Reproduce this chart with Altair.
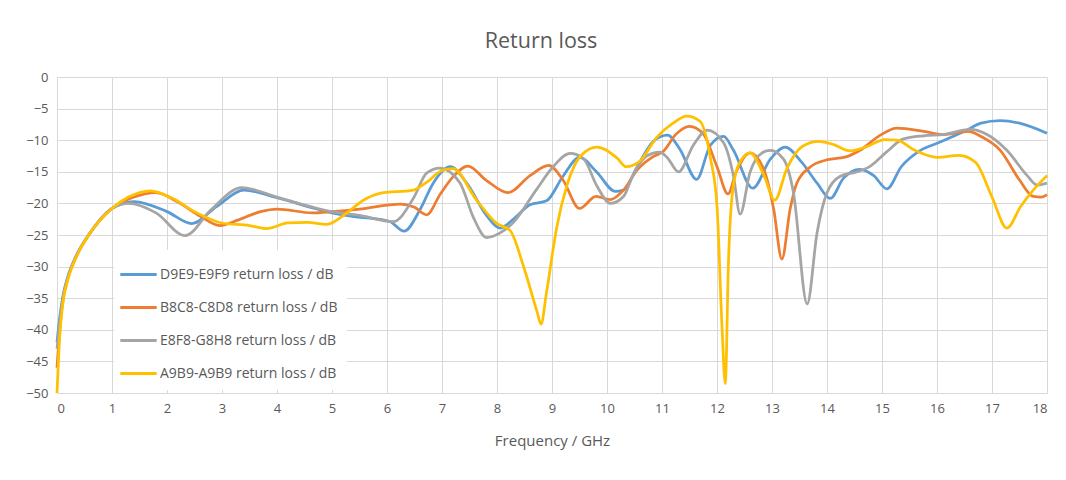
import altair as alt
import pandas as pd

# ---- data ----
series_names = [
    "D9E9-E9F9 return loss / dB",
    "B8C8-C8D8 return loss / dB",
    "E8F8-G8H8 return loss / dB",
    "A9B9-A9B9 return loss / dB",
]
series_colors = ["#5B9BD5", "#ED7D31", "#A5A5A5", "#FFC000"]

freq_blue = [0, 0.05, 0.1, 0.2, 0.35, 0.6, 1.0, 1.4, 2.0, 2.45, 2.9, 3.4, 4.0, 4.65, 5.0, 5.4,
             5.77, 6.06, 6.31, 6.6, 6.84, 7.15, 7.45, 7.81, 8.05, 8.3, 8.6, 8.9, 9.2, 9.5,
             9.82, 10.15, 10.3, 10.55, 10.84, 11.1, 11.33, 11.63, 11.88, 12.12, 12.3, 12.65,
             12.97, 13.24, 13.55, 13.82, 14.06, 14.3, 14.6, 14.85, 15.09, 15.35, 15.7, 16.0,
             16.5, 16.8, 17.15, 17.5, 18.0]
db_blue = [-42, -38, -35, -31.5, -28.3, -24.7, -20.8, -19.7, -21.3, -23.2, -20.5, -17.9, -19.1,
           -20.7, -21.5, -22.1, -22.4, -22.9, -24.4, -21.0, -16.8, -14.2, -16.8, -21.9, -23.9,
           -22.5, -20.2, -19.6, -15.7, -12.7, -15.1, -18.1, -17.9, -14.2, -10.2, -9.2, -11.5,
           -16.2, -10.8, -9.4, -11.6, -17.6, -13.0, -11.1, -13.6, -16.8, -19.2, -16.0, -14.6,
           -15.6, -17.7, -14.2, -11.6, -10.5, -8.6, -7.3, -6.9, -7.3, -8.9]

freq_orange = [0, 0.05, 0.1, 0.2, 0.35, 0.6, 1.0, 1.4, 1.8, 2.2, 2.6, 2.96, 3.3, 3.7, 4.0, 4.65,
               5.0, 5.5, 6.24, 6.5, 6.72, 6.97, 7.2, 7.47, 7.8, 8.2, 8.6, 8.94, 9.2, 9.5, 9.8,
               10.06, 10.3, 10.55, 10.84, 11.02, 11.26, 11.5, 11.75, 12.0, 12.2, 12.35, 12.6,
               12.85, 13.03, 13.18, 13.33, 13.45, 13.7, 14.0, 14.36, 14.6, 14.97, 15.27, 15.76,
               16.12, 16.57, 16.8, 17.15, 17.5, 17.75, 17.9, 18.0]
db_orange = [-46, -40, -35.8, -31.8, -28.4, -24.7, -20.8, -19.0, -18.3, -19.8, -22.0, -23.5,
             -22.6, -21.3, -20.9, -21.5, -21.3, -20.9, -20.1, -20.6, -21.8, -18.5, -15.8, -14.1,
             -16.3, -18.3, -15.6, -14.0, -16.3, -20.8, -18.9, -19.4, -17.9, -14.7, -12.6, -11.8,
             -9.0, -7.8, -9.0, -14.2, -18.5, -15.0, -12.0, -14.6, -20.9, -28.8, -20.9, -16.8,
             -14.2, -13.1, -12.6, -11.6, -9.2, -8.1, -8.6, -9.1, -8.6, -9.4, -11.6, -16.3,
             -18.9, -19.0, -18.6]

freq_gray = [0, 0.05, 0.1, 0.2, 0.35, 0.6, 1.0, 1.3, 1.8, 2.33, 2.8, 3.36, 4.0, 4.65, 5.0, 5.5,
             6.11, 6.48, 6.72, 6.96, 7.33, 7.57, 7.81, 8.05, 8.3, 8.71, 9.02, 9.33, 9.57, 9.82,
             10.06, 10.3, 10.49, 10.72, 10.96, 11.1, 11.3, 11.57, 11.82, 12.12, 12.3, 12.42,
             12.6, 12.82, 12.97, 13.21, 13.39, 13.64, 13.82, 14.0, 14.24, 14.55, 14.79, 15.09,
             15.39, 15.76, 16.12, 16.6, 16.91, 17.27, 17.64, 17.82, 18.0]
db_gray = [-43, -39, -35.5, -31.6, -28.3, -24.7, -20.8, -20.0, -21.5, -25.1, -21.0, -17.5,
           -19.0, -20.6, -21.3, -21.9, -22.9, -19.2, -15.2, -14.4, -16.8, -22.2, -25.4, -24.7,
           -23.0, -17.9, -14.2, -12.1, -12.9, -17.3, -20.0, -18.9, -15.2, -12.5, -11.9, -12.8,
           -15.0, -10.8, -8.4, -10.4, -15.7, -21.7, -15.1, -12.0, -11.6, -13.0, -18.3, -35.9,
           -24.6, -18.3, -15.7, -15.0, -14.1, -11.8, -9.8, -9.3, -9.1, -8.3, -9.1, -11.6,
           -15.6, -17.1, -16.8]

freq_yellow = [0, 0.05, 0.1, 0.2, 0.35, 0.6, 1.0, 1.3, 1.7, 2.1, 2.5, 3.0, 3.5, 3.81, 4.2, 4.55,
               4.9, 5.27, 5.57, 5.87, 6.48, 6.7, 7.0, 7.2, 7.63, 8.0, 8.24, 8.48, 8.73, 8.8, 8.9,
               9.09, 9.27, 9.52, 9.82, 10.18, 10.35, 10.6, 10.9, 11.2, 11.45, 11.69, 11.88, 12.0,
               12.09, 12.15, 12.21, 12.3, 12.45, 12.6, 12.85, 13.05, 13.27, 13.55, 13.85, 14.12,
               14.42, 14.73, 15.05, 15.27, 15.6, 16.0, 16.4, 16.7, 17.0, 17.27, 17.52, 17.75, 18.0]
db_yellow = [-50, -41, -36.2, -32, -28.5, -24.7, -20.8, -19.0, -18.0, -19.2, -21.3, -23.1,
             -23.5, -24.0, -23.1, -23.0, -23.3, -21.5, -19.5, -18.4, -17.9, -16.8, -14.8, -14.5,
             -19.5, -23.2, -24.3, -29.9, -37.2, -39.1, -34.1, -23.6, -17.2, -12.5, -11.1, -12.8,
             -14.2, -13.3, -9.6, -7.3, -6.2, -7.0, -12.8, -20.4, -39.3, -48.5, -28.8, -17.0,
             -13.0, -12.0, -15.5, -19.5, -14.5, -11.0, -10.2, -10.7, -11.7, -11.0, -9.9, -10.0,
             -11.6, -12.7, -12.4, -13.5, -19.0, -23.9, -20.5, -17.9, -15.6]

x_ticks = list(range(0, 19))
y_ticks = list(range(-50, 1, 5))

frames = []
for name, fr, db in zip(series_names,
                        [freq_blue, freq_orange, freq_gray, freq_yellow],
                        [db_blue, db_orange, db_gray, db_yellow]):
    frames.append(pd.DataFrame({"series": name, "freq": fr, "db": db}))
df = pd.concat(frames, ignore_index=True)
df["order"] = df["series"].map({n: i for i, n in enumerate(series_names)})

FONT = "Open Sans"
TXT = "#595959"
GRID = "#d9d9d9"

chart = (
    alt.Chart(df)
    .mark_line(interpolate="monotone", strokeWidth=2.75)
    .encode(
        x=alt.X("freq:Q",
                scale=alt.Scale(domain=[0, 18], nice=False, zero=False),
                axis=alt.Axis(values=x_ticks, title="Frequency / GHz", format="d")),
        y=alt.Y("db:Q",
                scale=alt.Scale(domain=[-50, 0], nice=False),
                axis=alt.Axis(values=y_ticks, title=None, format="d")),
        color=alt.Color("series:N",
                        scale=alt.Scale(domain=series_names, range=series_colors),
                        sort=series_names,
                        legend=alt.Legend(title=None, orient="none", legendX=57, legendY=173,
                                          fillColor="white", padding=9,
                                          symbolType="M-1.3,0H1.3", symbolSize=784,
                                          symbolStrokeWidth=3, symbolFillColor="transparent",
                                          rowPadding=10, labelOffset=6, labelLimit=400,
                                          labelFontSize=14, labelFont=FONT, labelColor=TXT)),
        detail="order:O",
        order="order:O",
    )
    .properties(
        width=990, height=316,
        title=alt.TitleParams("Return loss", fontSize=21.5, font=FONT, color=TXT,
                              fontWeight="normal", anchor="middle", dx=-11, offset=19),
        autosize=alt.AutoSizeParams(type="none"),
        padding={"left": 49, "top": 69, "right": 10, "bottom": 60},
    )
    .configure_view(stroke=None)
    .configure_axis(
        grid=True, gridColor=GRID, gridWidth=1, ticks=False,
        labelFont=FONT, labelFontSize=13, labelColor=TXT,
        titleFont=FONT, titleFontSize=15, titleColor=TXT, titleFontWeight="normal",
    )
    .configure_axisX(domainColor=GRID, labelPadding=9, titlePadding=18)
    .configure_axisY(domain=False, labelPadding=9)
)

chart.save("out.html", embed_options={"renderer": "svg", "actions": False})
